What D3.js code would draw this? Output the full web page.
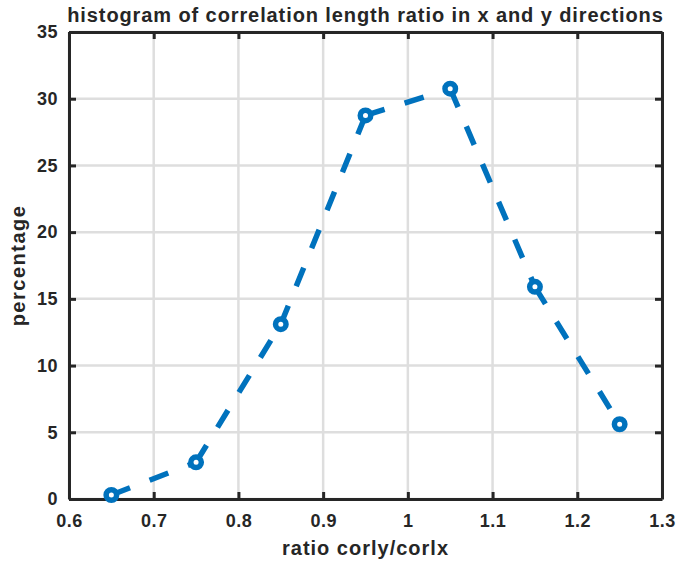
<!DOCTYPE html>
<html>
<head>
<meta charset="utf-8">
<script src="https://cdn.jsdelivr.net/npm/d3@7"></script>
<style>
  body { margin: 0; background: #fff; }
  text { font-family: "Liberation Sans", Arial, sans-serif; font-weight: bold; fill: #262626; }
</style>
</head>
<body>
<div id="chart"></div>
<script>
let ratios = [0.65, 0.75, 0.85, 0.95, 1.05, 1.15, 1.25];
let percentages = [0.3, 2.75, 13.1, 28.75, 30.75, 15.9, 5.6];
let xTicks = [0.6, 0.7, 0.8, 0.9, 1, 1.1, 1.2, 1.3];
let yTicks = [0, 5, 10, 15, 20, 25, 30, 35];

let width = 677;
let height = 567;
let plotLeft = 69, plotRight = 662, plotTop = 32, plotBottom = 499;

let svg = d3.select("#chart")
  .append("svg")
  .attr("width", width)
  .attr("height", height);

let x = d3.scaleLinear().domain([0.6, 1.3]).range([plotLeft, plotRight]);
let y = d3.scaleLinear().domain([0, 35]).range([plotBottom, plotTop]);

// grid
svg.append("g")
  .selectAll("line")
  .data(xTicks)
  .enter()
  .append("line")
  .attr("x1", d => x(d))
  .attr("x2", d => x(d))
  .attr("y1", plotTop)
  .attr("y2", plotBottom)
  .attr("stroke", "#dedede")
  .attr("stroke-width", 2.5);

svg.append("g")
  .selectAll("line")
  .data(yTicks)
  .enter()
  .append("line")
  .attr("x1", plotLeft)
  .attr("x2", plotRight)
  .attr("y1", d => y(d))
  .attr("y2", d => y(d))
  .attr("stroke", "#dedede")
  .attr("stroke-width", 2.5);

// axes, ticks pointing inwards
let xBottom = d3.axisBottom(x).tickValues(xTicks).tickSizeInner(-7).tickSizeOuter(0).tickPadding(15).tickFormat(d3.format("~g"));
let xTop = d3.axisTop(x).tickValues(xTicks).tickSizeInner(-7).tickSizeOuter(0).tickFormat("");
let yLeft = d3.axisLeft(y).tickValues(yTicks).tickSizeInner(-7).tickSizeOuter(0).tickPadding(11).tickFormat(d3.format("~g"));
let yRight = d3.axisRight(y).tickValues(yTicks).tickSizeInner(-7).tickSizeOuter(0).tickFormat("");

let axes = [
  [xBottom, "translate(0," + plotBottom + ")"],
  [xTop, "translate(0," + plotTop + ")"],
  [yLeft, "translate(" + plotLeft + ",0)"],
  [yRight, "translate(" + plotRight + ",0)"]
];
axes.forEach(function (a) {
  let g = svg.append("g").attr("transform", a[1]).call(a[0]);
  g.selectAll("path").attr("stroke", "#262626").attr("stroke-width", 3);
  g.selectAll("line").attr("stroke", "#262626").attr("stroke-width", 3);
  g.selectAll("text")
    .style("font-size", "18px")
    .style("letter-spacing", "0.5px")
    .style("font-family", "Liberation Sans, Arial, sans-serif")
    .style("font-weight", "bold")
    .attr("fill", "#262626");
});

// dashed line, the dash pattern restarts at every point
let line = d3.line().x(d => x(d[0])).y(d => y(d[1]));
let points = ratios.map((r, i) => [r, percentages[i]]);

svg.append("g")
  .selectAll("path")
  .data(d3.pairs(points))
  .enter()
  .append("path")
  .attr("d", line)
  .attr("fill", "none")
  .attr("stroke", "#0072bd")
  .attr("stroke-width", 5.5)
  .attr("stroke-dasharray", "20 21");

svg.append("g")
  .selectAll("circle")
  .data(points)
  .enter()
  .append("circle")
  .attr("cx", d => x(d[0]))
  .attr("cy", d => y(d[1]))
  .attr("r", 5.25)
  .attr("fill", "#fff")
  .attr("stroke", "#0072bd")
  .attr("stroke-width", 5.5);

// labels
svg.append("text")
  .attr("x", (plotLeft + plotRight) / 2)
  .attr("y", 22)
  .attr("text-anchor", "middle")
  .style("font-size", "20px")
  .style("letter-spacing", "0.9px")
  .text("histogram of correlation length ratio in x and y directions");

svg.append("text")
  .attr("x", (plotLeft + plotRight) / 2)
  .attr("y", 555)
  .attr("text-anchor", "middle")
  .style("font-size", "20px")
  .style("letter-spacing", "1px")
  .text("ratio corly/corlx");

svg.append("text")
  .attr("transform", "translate(25," + (plotTop + plotBottom) / 2 + ") rotate(-90)")
  .attr("text-anchor", "middle")
  .style("font-size", "20px")
  .style("letter-spacing", "1.5px")
  .text("percentage");
</script>
</body>
</html>
